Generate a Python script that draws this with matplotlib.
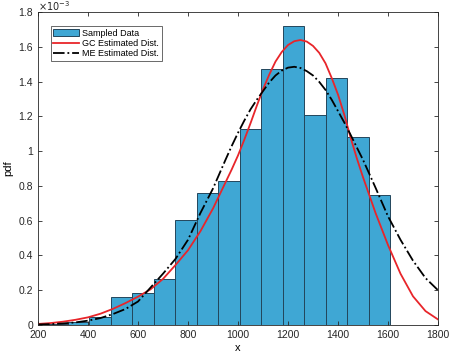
import matplotlib
matplotlib.use("Agg")
import matplotlib.pyplot as plt
import numpy as np

plt.rcParams['font.family'] = ['Liberation Sans', 'DejaVu Sans']

# histogram (pdf values in units of 1e-3)
edges = [235, 321, 405, 491, 577, 663, 749, 835, 921, 1007, 1093, 1179,
         1265, 1351, 1437, 1522, 1608]
heights = [0.006, 0.019, 0.045, 0.163, 0.184, 0.264, 0.605, 0.758, 0.827,
           1.13, 1.47, 1.72, 1.21, 1.42, 1.08, 0.745]

# fitted curves
xs = [200, 250, 300, 350, 400, 450, 500, 550, 600, 650, 700, 750, 800, 850,
      900, 950, 975, 1000, 1025, 1050, 1075, 1100, 1125, 1150, 1175, 1200,
      1225, 1250, 1275, 1300, 1325, 1350, 1375, 1400, 1425, 1450, 1475, 1500,
      1550, 1600, 1650, 1700, 1750, 1800]
gc = [0.006, 0.011, 0.019, 0.030, 0.044, 0.065, 0.093, 0.126, 0.163, 0.205,
      0.265, 0.345, 0.43, 0.54, 0.67, 0.82, 0.895, 0.975, 1.065, 1.16, 1.26,
      1.355, 1.44, 1.515, 1.57, 1.61, 1.632, 1.639, 1.63, 1.605, 1.565, 1.505,
      1.42, 1.325, 1.21, 1.08, 0.96, 0.85, 0.645, 0.46, 0.295, 0.165, 0.08,
      0.032]
me = [0.003, 0.005, 0.009, 0.015, 0.025, 0.04, 0.063, 0.092, 0.135, 0.215,
      0.295, 0.38, 0.49, 0.645, 0.785, 0.95, 1.03, 1.105, 1.175, 1.24, 1.295,
      1.345, 1.395, 1.435, 1.463, 1.48, 1.485, 1.478, 1.46, 1.435, 1.398,
      1.352, 1.295, 1.23, 1.165, 1.095, 1.022, 0.95, 0.79, 0.625, 0.49, 0.37,
      0.27, 0.2]

fig = plt.figure(figsize=(4.54, 3.56), dpi=100)
ax = fig.add_axes([38/454, 1-325/356, 400/454, 313/356])

bars = ax.bar(edges[:-1], heights, width=np.diff(edges), align='edge',
              color='#3fa7d4', edgecolor='#23465c', linewidth=0.7)
l1, = ax.plot(xs, gc, '-', color='#e8252a', lw=1.3)
l2, = ax.plot(xs, me, '-.', color='k', lw=1.3)

ax.set_xlim(200, 1800)
ax.set_ylim(0, 1.8)
ax.set_xticks(np.arange(200, 1801, 200))
yt = np.arange(0, 1.81, 0.2)
ax.set_yticks(yt)
ax.set_yticklabels(['%g' % round(v, 1) for v in yt])
ax.tick_params(direction='in', length=3, width=0.6, labelsize=7.5,
               colors='#262626', top=True, right=True)
for s in ax.spines.values():
    s.set_color('#262626')
    s.set_linewidth(0.6)
ax.text(0, 0.998, r'$\times10^{-3}$', transform=ax.transAxes, fontsize=7,
        color='#262626', va='bottom', ha='left')

ax.set_xlabel('x', fontsize=8, labelpad=2)
ax.set_ylabel('pdf', fontsize=8, labelpad=4)

leg = ax.legend([bars, l1, l2],
                ['Sampled Data', 'GC Estimated Dist.', 'ME Estimated Dist.'],
                loc='upper left', bbox_to_anchor=(0.02, 0.97), fontsize=6.5,
                frameon=True, fancybox=False, edgecolor='#262626',
                handlelength=2.8, borderpad=0.3, labelspacing=0.15,
                handletextpad=0.4)
leg.get_frame().set_linewidth(0.6)

fig.savefig('out.png', dpi=100)
